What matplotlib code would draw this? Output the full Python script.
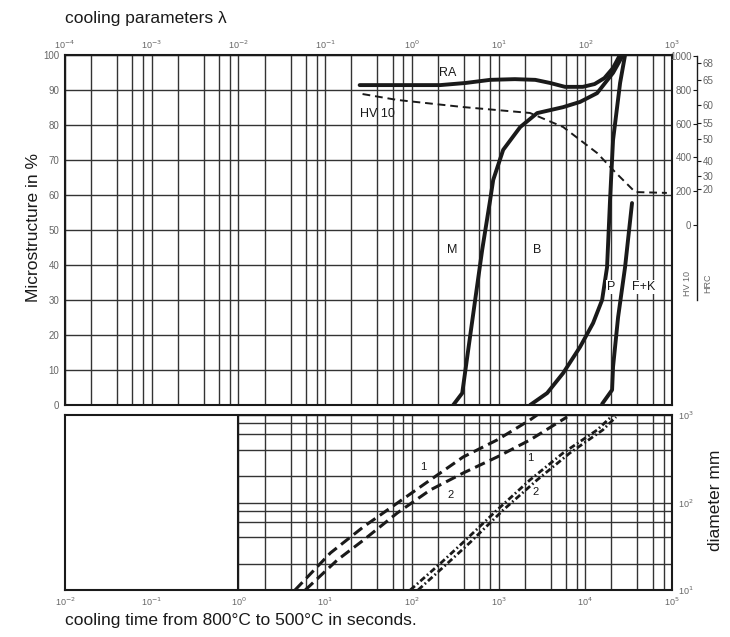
import math
import matplotlib.pyplot as plt
from matplotlib.ticker import FixedLocator, NullLocator

plt.rcParams['font.family'] = ['Liberation Sans', 'DejaVu Sans']

W, H = 730, 637
INK = "#1a1a1a"
GRID = "#333333"
TICK = "#666666"

# ---- upper diagram: microstructure in % vs cooling time (s) ----
ra_time = [25, 73, 212, 414, 800, 1540, 2650, 3940, 5840, 9370, 12800, 16600, 20900, 25100]
ra_pct = [91.4, 91.4, 91.4, 92.0, 92.9, 93.1, 92.9, 92.0, 90.9, 90.9, 91.7, 93.4, 96.3, 100]

m_time = [300, 381, 435, 537, 647, 800, 867, 1130, 1774, 2785, 5550, 8710, 13680, 20900, 27240]
m_pct = [0, 3.4, 13.7, 30, 44.3, 58.6, 64.3, 72.9, 79.4, 83.4, 85.1, 86.6, 89.1, 94.9, 100]

b_time = [2312, 3630, 5550, 8710, 12300, 15630, 17830, 19300, 20900, 25200, 28760]
b_pct = [0, 3.4, 9.1, 16.6, 23.4, 30, 39.4, 58.6, 75.7, 92, 100]

fk_time = [15630, 20370, 20900, 23900, 28760, 34600]
fk_pct = [0.3, 4.3, 10.9, 25.1, 39.4, 57.7]

hv_time = [27, 68, 390, 2300, 5550, 13700, 22000, 37600, 87200]
hv_value = [775, 740, 698, 663, 580, 426, 314, 195, 190]

hv_ticks = [0, 200, 400, 600, 800, 1000]
hrc_pos = [959, 858, 710, 604, 509, 379, 290, 213]   # HV equivalents
hrc_labels = ["68", "65", "60", "55", "50", "40", "30", "20"]

lam_ticks = [1e-4, 1e-3, 1e-2, 1e-1, 1e0, 1e1, 1e2, 1e3]

# ---- lower diagram: bar diameter (mm) vs cooling time (s) ----
d1_time = [4.5, 11.5, 27.5, 68, 163, 390, 960, 2300, 2780]
d1_diam = [10, 26.5, 52.5, 98.6, 181, 331, 518, 877, 1000]

d2_time = [5.9, 13.8, 27.5, 68, 163, 390, 960, 2300, 6160]
d2_diam = [10, 22, 37, 76, 139, 217, 331, 518, 950]

p1_time = [96, 212, 390, 960, 2300, 5550, 13700, 20900]
p1_diam = [10, 20, 35, 82, 181, 368, 674, 1000]

p2_time = [118, 255, 470, 1130, 2780, 6640, 15900, 22600]
p2_diam = [10, 20, 35, 82, 181, 368, 674, 950]


def px_rect(left, top, right, bottom):
    return [left / W, 1 - bottom / H, (right - left) / W, (bottom - top) / H]


def log_grid(lo, hi):
    out = []
    for e in range(lo, hi):
        for m in (1, 2, 4, 6, 8):
            out.append(m * 10.0 ** e)
    out.append(10.0 ** hi)
    return out


def pow_label(v):
    e = int(round(math.log10(v)))
    return f"10$^{{{e}}}$"


fig = plt.figure(figsize=(W / 100, H / 100), dpi=100)

# ---------------- upper panel ----------------
ax = fig.add_axes(px_rect(65, 55, 672, 405))
ax.set_xscale("log")
ax.set_xlim(1e-2, 1e5)
ax.set_ylim(0, 100)

ax.xaxis.set_major_locator(FixedLocator(log_grid(-2, 5)))
ax.xaxis.set_minor_locator(NullLocator())
ax.set_xticklabels([])
ax.set_yticks(range(0, 101, 10))
ax.tick_params(axis="both", length=0, labelsize=7, labelcolor=TICK, pad=4)
ax.grid(True, color=GRID, lw=1.0)
ax.set_axisbelow(True)
for s in ax.spines.values():
    s.set_linewidth(1.5)
    s.set_color(INK)

for tx, py in [(ra_time, ra_pct), (m_time, m_pct), (b_time, b_pct), (fk_time, fk_pct)]:
    ax.plot(tx, py, color=INK, lw=2.8, solid_capstyle="round")

ax.text(262, 94.9, "RA", fontsize=9, ha="center", va="center", color=INK)
ax.text(40, 83.2, "HV 10", fontsize=9, ha="center", va="center", color=INK)
ax.text(292, 44.3, "M", fontsize=9, ha="center", va="center", color=INK)
ax.text(2785, 44.3, "B", fontsize=9, ha="center", va="center", color=INK)
ax.text(19800, 33.7, "P", fontsize=9, ha="center", va="center", color=INK,
        bbox=dict(fc="white", ec="none", pad=0.5))
ax.text(47500, 33.7, "F+K", fontsize=9, ha="center", va="center", color=INK,
        bbox=dict(fc="white", ec="none", pad=0.5))

# cooling parameter lambda on top
sec = ax.secondary_xaxis("top", functions=(lambda t: t / 100, lambda l: l * 100))
sec.set_xticks(lam_ticks)
sec.set_xticklabels([pow_label(v) for v in lam_ticks])
sec.xaxis.set_minor_locator(NullLocator())
sec.tick_params(length=0, labelsize=6.5, labelcolor=TICK, pad=3)

# hardness scale (HV 10 / HRC) offset to the right
hv_lim = (-1065, 1006)
axh = ax.twinx()
axh.set_ylim(*hv_lim)
axh.yaxis.tick_left()
for name in ("top", "bottom", "right"):
    axh.spines[name].set_visible(False)
axh.spines["left"].set_position(("axes", 1.0412))
axh.spines["left"].set_bounds(-444, 1000)
axh.spines["left"].set_linewidth(1.0)
axh.spines["left"].set_color(INK)
axh.set_yticks(hv_ticks)
axh.tick_params(axis="y", direction="out", length=3, width=0.8, color=INK,
                labelsize=7, labelcolor=TICK, pad=1)
axh.plot(hv_time, hv_value, color=INK, lw=1.4, ls=(0, (4, 2.5)))

axr = ax.twinx()
axr.set_ylim(*hv_lim)
for s in axr.spines.values():
    s.set_visible(False)
axr.spines["right"].set_position(("axes", 1.0412))
axr.set_yticks(hrc_pos)
axr.set_yticklabels(hrc_labels)
axr.tick_params(axis="y", direction="out", length=3, width=0.8, color=INK,
                labelsize=7, labelcolor=TICK, pad=1)

fig.text(688 / W, 1 - 283 / H, "HV 10", rotation=90, fontsize=6.5,
         ha="center", va="center", color=TICK)
fig.text(708 / W, 1 - 283 / H, "HRC", rotation=90, fontsize=6.5,
         ha="center", va="center", color=TICK)

# ---------------- lower panel ----------------
ax2 = fig.add_axes(px_rect(65, 415, 672, 590))
ax2.set_xscale("log")
ax2.set_yscale("log")
ax2.set_xlim(1e-2, 1e5)
ax2.set_ylim(10, 1000)

dec = [10.0 ** e for e in range(-2, 6)]
ax2.xaxis.set_major_locator(FixedLocator(dec))
ax2.xaxis.set_minor_locator(NullLocator())
ax2.set_xticklabels([pow_label(v) for v in dec])
ax2.yaxis.tick_right()
ax2.yaxis.set_major_locator(FixedLocator([10, 100, 1000]))
ax2.yaxis.set_minor_locator(NullLocator())
ax2.set_yticklabels([pow_label(v) for v in (10, 100, 1000)])
ax2.tick_params(axis="both", length=0, labelsize=6.5, labelcolor=TICK, pad=4)
for s in ax2.spines.values():
    s.set_linewidth(1.5)
    s.set_color(INK)

gx = [v for v in log_grid(-2, 5) if v >= 1]
gy = log_grid(1, 3)
ax2.vlines(gx, 10, 1000, color=GRID, lw=1.0, zorder=1)
ax2.hlines(gy, 1, 1e5, color=GRID, lw=1.0, zorder=1)
ax2.axvline(1, color=INK, lw=1.5, zorder=1)

ax2.plot(d1_time, d1_diam, color=INK, lw=2.2, ls=(0, (3.5, 1.8)), zorder=3)
ax2.plot(d2_time, d2_diam, color=INK, lw=2.2, ls=(0, (3.5, 1.8)), zorder=3)
ax2.plot(p1_time, p1_diam, color=INK, lw=2.0, ls=(0, (2.2, 1.0, 0.6, 1.0)), zorder=3)
ax2.plot(p2_time, p2_diam, color=INK, lw=2.0, ls=(0, (2.2, 1.0, 0.6, 1.0)), zorder=3)

for tx, dy, s in [(135, 255, "1"), (277, 122, "2"), (2312, 323, "1"), (2640, 132, "2")]:
    ax2.text(tx, dy, s, fontsize=8, ha="center", va="center", color=INK, zorder=4)

# ---------------- titles ----------------
fig.text(65 / W, 1 - 18 / H, "cooling parameters \u03bb", fontsize=12.5, va="center", color=INK)
fig.text(65 / W, 1 - 621 / H, "cooling time from 800\u00b0C to 500\u00b0C in seconds.",
         fontsize=12.5, va="center", color=INK)
fig.text(34 / W, 1 - 228 / H, "Microstructure in %", rotation=90, fontsize=12.5,
         ha="center", va="center", color=INK)
fig.text(716 / W, 1 - 500 / H, "diameter mm", rotation=90, fontsize=12.5,
         ha="center", va="center", color=INK)

fig.savefig("out.png", dpi=100)
